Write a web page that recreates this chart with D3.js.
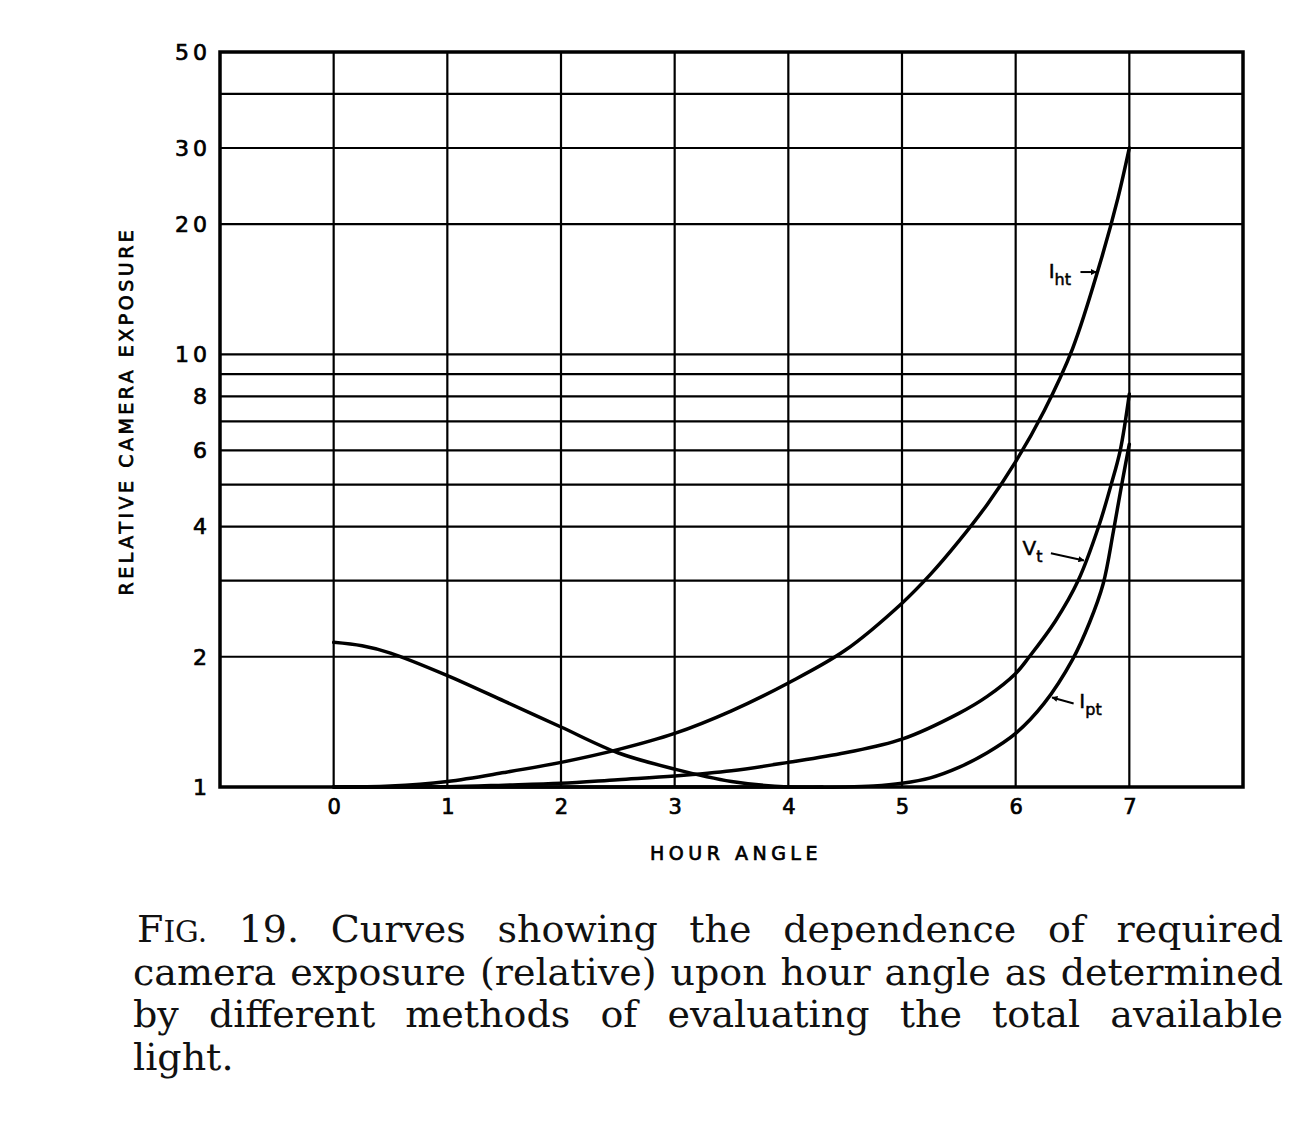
<!DOCTYPE html>
<html>
<head>
<meta charset="utf-8">
<script src="https://cdn.jsdelivr.net/npm/d3@7"></script>
<style>
  html, body { margin: 0; padding: 0; background: #fff; }
  svg { display: block; }
</style>
</head>
<body>
<div id="chart"></div>
<script>
// hour angle vs relative camera exposure
const hourDecl = [0, 0.25, 0.5, 1, 1.5, 2, 2.5, 3, 3.5, 4, 4.3];
const declCurve = [2.16, 2.12, 2.04, 1.81, 1.58, 1.376, 1.2, 1.1, 1.03, 1.0, 1.0];

const hourIht = [0, 0.5, 1, 1.5, 2, 2.5, 3, 3.5, 4, 4.5, 5, 5.25, 5.5, 5.75, 6, 6.25, 6.5, 6.75, 6.9, 7];
const iht = [1.0, 1.005, 1.03, 1.08, 1.14, 1.22, 1.33, 1.5, 1.74, 2.07, 2.66, 3.1, 3.7, 4.5, 5.65, 7.4, 10.3, 16.5, 23, 30];

const hourVt = [0, 1, 1.5, 2, 2.5, 3, 3.5, 4, 4.5, 5, 5.5, 5.75, 6, 6.12, 6.35, 6.55, 6.73, 6.84, 6.92, 7];
const vt = [1.0, 1.002, 1.01, 1.02, 1.04, 1.06, 1.09, 1.14, 1.2, 1.29, 1.48, 1.62, 1.83, 2.0, 2.42, 3.0, 4.0, 5.0, 6.0, 8.1];

const hourIpt = [0, 3.5, 4.5, 4.75, 5, 5.25, 5.5, 5.75, 6, 6.25, 6.5, 6.65, 6.77, 6.86, 6.93, 7];
const ipt = [1.0, 1.0, 1.0, 1.005, 1.02, 1.05, 1.11, 1.2, 1.33, 1.56, 1.97, 2.4, 2.95, 3.9, 4.95, 6.2];

const xTicks = [0, 1, 2, 3, 4, 5, 6, 7];
const yTickLabels = [1, 2, 4, 6, 8, 10, 20, 30, 50];
const yGrid = [2, 3, 4, 5, 6, 7, 8, 9, 10, 20, 30, 40];

const captionLines = [
  "FIG. 19. Curves showing the dependence of required",
  "camera exposure (relative) upon hour angle as determined",
  "by different methods of evaluating the total available",
  "light."
];

const W = 1312, H = 1122;

const svg = d3.select("#chart")
  .append("svg")
  .attr("width", W)
  .attr("height", H);

const x = d3.scaleLinear().domain([-1, 8]).range([220, 1243]);
const y = d3.scaleLog().domain([1, 50]).range([787, 52]);

const letterFont = "'DejaVu Sans', sans-serif";

// grid
const grid = svg.append("g").attr("stroke", "#000").attr("stroke-width", 2.2);
grid.selectAll(".hg")
  .data(yGrid)
  .enter()
  .append("line")
  .attr("x1", x(-1))
  .attr("x2", x(8))
  .attr("y1", (d) => y(d))
  .attr("y2", (d) => y(d));
grid.selectAll(".vg")
  .data(xTicks)
  .enter()
  .append("line")
  .attr("x1", (d) => x(d))
  .attr("x2", (d) => x(d))
  .attr("y1", y(50))
  .attr("y2", y(1));

// frame
svg.append("rect")
  .attr("x", x(-1))
  .attr("y", y(50))
  .attr("width", x(8) - x(-1))
  .attr("height", y(1) - y(50))
  .attr("fill", "none")
  .attr("stroke", "#000")
  .attr("stroke-width", 3.5);

function letterStyle(sel, size) {
  sel.attr("font-family", letterFont)
    .attr("font-size", size)
    .attr("fill", "#000")
    .attr("stroke", "#000")
    .attr("stroke-width", 0.7);
}

// axes (labels only, no tick marks)
const yAxis = svg.append("g")
  .attr("transform", `translate(${x(-1)},0)`)
  .call(d3.axisLeft(y).tickValues(yTickLabels).tickFormat(d3.format("d")).tickSize(0).tickPadding(9));
yAxis.select(".domain").remove();
yAxis.selectAll("text")
  .call(letterStyle, 22)
  .attr("letter-spacing", 4)
  .attr("dy", "0.33em");

const xAxis = svg.append("g")
  .attr("transform", `translate(0,${y(1)})`)
  .call(d3.axisBottom(x).tickValues(xTicks).tickFormat(d3.format("d")).tickSize(0).tickPadding(12));
xAxis.select(".domain").remove();
xAxis.selectAll("text").call(letterStyle, 21);

// axis titles
svg.append("text")
  .attr("transform", `translate(133,411) rotate(-90)`)
  .attr("text-anchor", "middle")
  .call(letterStyle, 19)
  .attr("letter-spacing", 3.5)
  .text("RELATIVE CAMERA EXPOSURE");

svg.append("text")
  .attr("x", 736)
  .attr("y", 860)
  .attr("text-anchor", "middle")
  .call(letterStyle, 19)
  .attr("letter-spacing", 4.5)
  .text("HOUR ANGLE");

// curves
const line = d3.line()
  .x((d) => x(d[0]))
  .y((d) => y(d[1]))
  .curve(d3.curveCatmullRom.alpha(0.5));

const series = [
  [hourDecl, declCurve],
  [hourIht, iht],
  [hourVt, vt],
  [hourIpt, ipt]
];

svg.append("g")
  .selectAll("path")
  .data(series)
  .enter()
  .append("path")
  .attr("d", (s) => line(s[0].map((h, i) => [h, s[1][i]])))
  .attr("fill", "none")
  .attr("stroke", "#000")
  .attr("stroke-width", 3.5)
  .attr("stroke-linecap", "round");

// curve labels with arrows
const curveLabels = [
  { main: "I", sub: "ht", at: [6.29, 15.0], from: [6.57, 15.5], to: [6.71, 15.5] },
  { main: "V", sub: "t", at: [6.06, 3.43], from: [6.31, 3.47], to: [6.6, 3.34] },
  { main: "I", sub: "pt", at: [6.56, 1.52], from: [6.51, 1.56], to: [6.32, 1.61] }
];

svg.append("defs").append("marker")
  .attr("id", "ah")
  .attr("viewBox", "0 0 10 10")
  .attr("refX", 9)
  .attr("refY", 5)
  .attr("markerWidth", 9)
  .attr("markerHeight", 6)
  .attr("markerUnits", "userSpaceOnUse")
  .attr("orient", "auto")
  .append("path")
  .attr("d", "M0,0 L10,5 L0,10 z")
  .attr("fill", "#000");

const lab = svg.append("g");
curveLabels.forEach((c) => {
  const t = lab.append("text")
    .attr("x", x(c.at[0]))
    .attr("y", y(c.at[1]))
    .attr("font-family", letterFont)
    .attr("font-size", 20)
    .attr("stroke", "#000")
    .attr("stroke-width", 0.5);
  t.append("tspan").text(c.main);
  t.append("tspan").attr("font-size", 16).attr("dy", 7).text(c.sub);
  lab.append("line")
    .attr("x1", x(c.from[0]))
    .attr("y1", y(c.from[1]))
    .attr("x2", x(c.to[0]))
    .attr("y2", y(c.to[1]))
    .attr("stroke", "#000")
    .attr("stroke-width", 2)
    .attr("marker-end", "url(#ah)");
});

// caption, justified word by word
const capLeft = 133, capRight = 1283, capTop = 942, capStep = 42.5, capSize = 38;
const cap = svg.append("g")
  .attr("font-family", "'DejaVu Serif', serif")
  .attr("font-size", capSize)
  .attr("fill", "#111");

captionLines.forEach((txt, li) => {
  const words = txt.split(" ");
  const row = cap.append("g");
  const nodes = words.map((w) => {
    const t = row.append("text").attr("y", capTop + li * capStep);
    if (w === "FIG.") {
      t.append("tspan").text("F");
      t.append("tspan").attr("font-size", capSize * 0.78).text("IG.");
    } else {
      t.text(w);
    }
    return t;
  });
  const widths = nodes.map((n) => n.node().getComputedTextLength());
  const total = d3.sum(widths);
  const last = li === captionLines.length - 1;
  const start = capLeft + (li === 0 ? 4 : 0);
  const span = capRight - start;
  const minGap = capSize * 0.3;
  // squeeze the row if the words do not fit with a minimum gap
  let sx = 1;
  if (!last && total + minGap * (words.length - 1) > span) {
    sx = (span - minGap * (words.length - 1)) / total;
  }
  const gap = last ? capSize * 0.3 : (span - total * sx) / (words.length - 1);
  let cx = 0;
  nodes.forEach((n, i) => { n.attr("x", cx); cx += widths[i] + gap / sx; });
  row.attr("transform", `translate(${start},0) scale(${sx},1)`);
});
</script>
</body>
</html>
